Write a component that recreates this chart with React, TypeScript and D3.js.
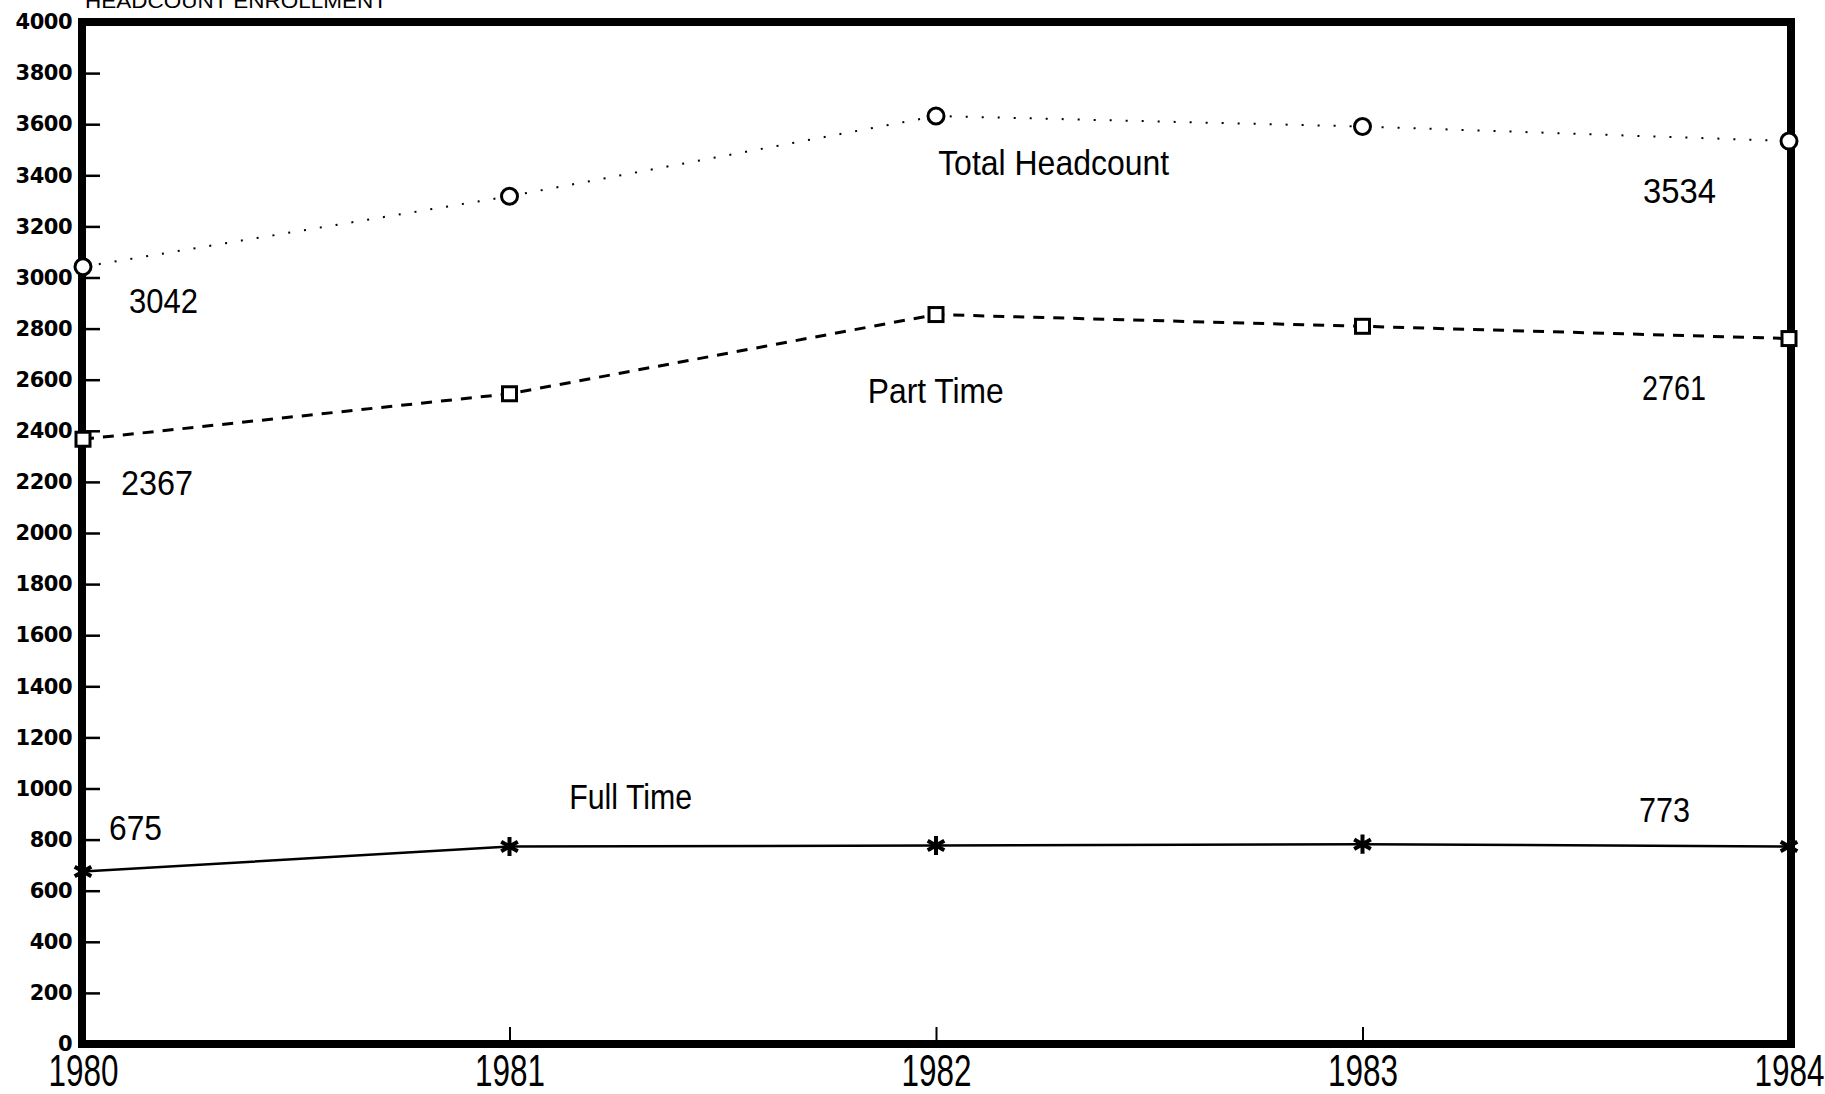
import React, { useEffect, useRef } from 'react';
import * as d3 from 'd3';

// headcount enrollment, fall terms
const years = [1980, 1981, 1982, 1983, 1984];
const totalHeadcount = [3042, 3318, 3632, 3591, 3534];
const partTime = [2367, 2545, 2855, 2809, 2761];
const fullTime = [675, 773, 777, 782, 773];
const yTicks = d3.range(0, 4001, 200);

// printed values next to first / last points
const valueNotes = [
  { year: 1980, value: 3042, dx: 46, dy: 46, anchor: 'start', len: 69 },
  { year: 1980, value: 2367, dx: 38, dy: 56, anchor: 'start', len: 72 },
  { year: 1980, value: 675, dx: 26, dy: -32, anchor: 'start', len: 53 },
  { year: 1984, value: 3534, dx: -73, dy: 62, anchor: 'end', len: 73 },
  { year: 1984, value: 2761, dx: -83, dy: 61, anchor: 'end', len: 64 },
  { year: 1984, value: 773, dx: -99, dy: -24, anchor: 'end', len: 51 },
];
// series names, anchored in data space
const seriesNames = [
  { name: 'Total Headcount', year: 1982.005, value: 3401, len: 231 },
  { name: 'Part Time', year: 1981.84, value: 2509, len: 136 },
  { name: 'Full Time', year: 1981.14, value: 920, len: 123 },
];

const App = () => {
  const svgRef = useRef<SVGSVGElement>(null);
  const W = 1825, H = 1094;
  const left = 83, right = 1789, top = 22, bottom = 1044;

  useEffect(() => {
    const svg = d3.select(svgRef.current);
    svg.selectAll('*').remove();

    const x = d3.scaleLinear().domain([1980, 1984]).range([left, right]);
    const y = d3.scaleLinear().domain([0, 4000]).range([bottom, top]);

    svg.append('rect').attr('width', W).attr('height', H).attr('fill', 'white');

    // title, mostly cut off at the top edge
    svg.append('text')
      .attr('x', 85).attr('y', 8)
      .attr('font-family', 'Liberation Sans Narrow, Liberation Sans, Arial, sans-serif')
      .attr('font-size', 20)
      .attr('textLength', 302).attr('lengthAdjust', 'spacingAndGlyphs')
      .text('HEADCOUNT ENROLLMENT');

    // y axis, ticks pointing inward
    const yAxis = svg.append('g')
      .attr('transform', `translate(${left},0)`)
      .call(d3.axisLeft(y).tickValues(yTicks).tickSize(-17).tickPadding(30).tickFormat(d3.format('d')));
    yAxis.select('.domain').remove();
    yAxis.selectAll('line').attr('stroke', 'black').attr('stroke-width', 2.5);
    yAxis.selectAll('text')
      .attr('x', -11)
      .attr('font-family', 'DejaVu Sans, sans-serif')
      .attr('font-weight', 'bold')
      .attr('font-size', 21)
      .attr('letter-spacing', -0.5)
      .attr('fill', 'black');

    // x axis
    const xAxis = svg.append('g')
      .attr('transform', `translate(0,${bottom})`)
      .call(d3.axisBottom(x).tickValues(years).tickSize(-17).tickFormat(d3.format('d')));
    xAxis.select('.domain').remove();
    xAxis.selectAll('line').attr('stroke', 'black').attr('stroke-width', 2);
    xAxis.selectAll('text')
      .attr('y', 42).attr('dy', 0)
      .attr('font-family', 'Liberation Sans Narrow, Liberation Sans, Arial, sans-serif')
      .attr('font-size', 45)
      .attr('textLength', 70).attr('lengthAdjust', 'spacingAndGlyphs')
      .attr('fill', 'black');

    // frame
    svg.append('rect')
      .attr('x', left - 1).attr('y', top)
      .attr('width', right - left + 3).attr('height', bottom - top)
      .attr('fill', 'none').attr('stroke', 'black').attr('stroke-width', 8);

    const line = d3.line<number>().x((_, i) => x(years[i])).y(d => y(d));

    svg.append('path').datum(totalHeadcount)
      .attr('d', line).attr('fill', 'none').attr('stroke', 'black')
      .attr('stroke-width', 2).attr('stroke-dasharray', '2,14');
    svg.append('path').datum(partTime)
      .attr('d', line).attr('fill', 'none').attr('stroke', 'black')
      .attr('stroke-width', 3).attr('stroke-dasharray', '11,9');
    svg.append('path').datum(fullTime)
      .attr('d', line).attr('fill', 'none').attr('stroke', 'black')
      .attr('stroke-width', 2.5);

    // markers
    svg.append('g').selectAll('circle').data(totalHeadcount).enter().append('circle')
      .attr('cx', (_, i) => x(years[i])).attr('cy', d => y(d)).attr('r', 8)
      .attr('fill', 'white').attr('stroke', 'black').attr('stroke-width', 3);
    svg.append('g').selectAll('rect').data(partTime).enter().append('rect')
      .attr('x', (_, i) => x(years[i]) - 7).attr('y', d => y(d) - 7)
      .attr('width', 14).attr('height', 14)
      .attr('fill', 'white').attr('stroke', 'black').attr('stroke-width', 3);
    svg.append('g').selectAll('path').data(fullTime).enter().append('path')
      .attr('transform', (d, i) => `translate(${x(years[i])},${y(d)})`)
      .attr('d', d3.symbol(d3.symbolAsterisk, 260) as any)
      .attr('fill', 'none').attr('stroke', 'black').attr('stroke-width', 4);

    const font = 'Liberation Sans Narrow, Liberation Sans, Arial, sans-serif';
    svg.append('g').selectAll('text').data(valueNotes).enter().append('text')
      .attr('x', d => x(d.year) + d.dx).attr('y', d => y(d.value) + d.dy)
      .attr('text-anchor', d => d.anchor)
      .attr('font-family', font).attr('font-size', 35)
      .attr('textLength', d => d.len).attr('lengthAdjust', 'spacingAndGlyphs')
      .text(d => d.value);

    svg.append('g').selectAll('text').data(seriesNames).enter().append('text')
      .attr('x', d => x(d.year)).attr('y', d => y(d.value))
      .attr('font-family', font).attr('font-size', 35)
      .attr('textLength', d => d.len).attr('lengthAdjust', 'spacingAndGlyphs')
      .text(d => d.name);
  }, []);

  return (
    <svg ref={svgRef} width={W} height={H}
      style={{ position: 'absolute', left: 0, top: 0, display: 'block' }} />
  );
};

export default App;
